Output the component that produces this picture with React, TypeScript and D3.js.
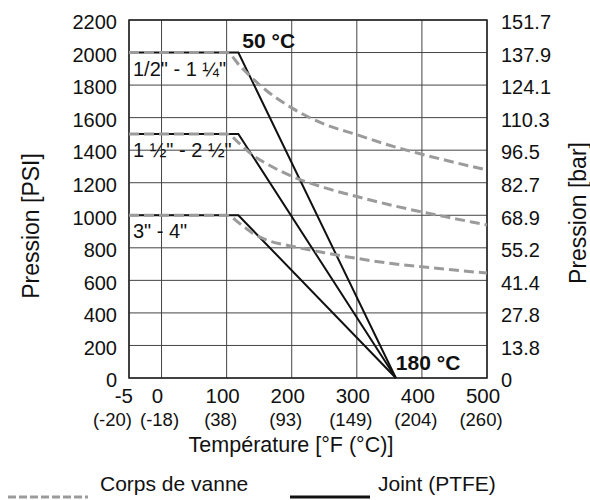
import React from 'react';
import * as d3 from 'd3';

// x positions on the °F axis (first tick is the -5 / -20 °C stop, drawn at half a step)
const xTickPos = [-50, 0, 100, 200, 300, 400, 500];
const fLabels = ['-5', '0', '100', '200', '300', '400', '500'];
const cLabels = ['(-20)', '(-18)', '(38)', '(93)', '(149)', '(204)', '(260)'];

const psiTicks = [0, 200, 400, 600, 800, 1000, 1200, 1400, 1600, 1800, 2000, 2200];
const barLabels = ['0', '13.8', '27.8', '41.4', '55.2', '68.9', '82.7', '96.5', '110.3', '124.1', '137.9', '151.7'];

const sizes = ['1/2" - 1 ¼"', '1 ½" - 2 ½"', '3" - 4"'];
const jointRated = [2000, 1500, 1000];
const jointKnee = 118;
const jointZero = 360;

const bodyTemps = [-50, 100, 120, 140, 160, 200, 250, 300, 350, 400, 450, 500];
const body1 = [2000, 2000, 1920, 1840, 1770, 1660, 1560, 1495, 1430, 1375, 1325, 1278];
const body2 = [1500, 1500, 1440, 1370, 1320, 1240, 1170, 1115, 1065, 1020, 980, 940];
const body3 = [1000, 1000, 950, 890, 850, 810, 770, 735, 705, 683, 663, 645];

const W = 590;
const H = 500;
const font = "'Liberation Sans', Arial, sans-serif";
const grey = '#9b9b9b';
const ink = '#111';

export default function App() {
  const x = d3.scaleLinear().domain([-50, 500]).range([129, 487]);
  const y = d3.scaleLinear().domain([0, 2200]).range([378, 20]);

  const line = d3.line<[number, number]>()
    .x(d => x(d[0]))
    .y(d => y(d[1]));
  const curve = d3.line<[number, number]>()
    .x(d => x(d[0]))
    .y(d => y(d[1]))
    .curve(d3.curveMonotoneX);

  const bodies = [body1, body2, body3].map(s => bodyTemps.map((t, i) => [t, s[i]] as [number, number]));
  const joints = jointRated.map(p => [[-50, p], [jointKnee, p], [jointZero, 0]] as [number, number][]);

  return (
    <svg width={W} height={H} style={{ position: 'absolute', left: 0, top: 0 }} fontFamily={font}>
      <rect width={W} height={H} fill="#fff" />

      {/* grid */}
      {xTickPos.map(t => (
        <line key={'vx' + t} x1={x(t)} x2={x(t)} y1={y(0)} y2={y(2200)} stroke="#444" strokeWidth={1} />
      ))}
      {psiTicks.map(t => (
        <line key={'hy' + t} x1={x(-50)} x2={x(500)} y1={y(t)} y2={y(t)} stroke="#444" strokeWidth={1} />
      ))}
      <rect x={x(-50)} y={y(2200)} width={x(500) - x(-50)} height={y(0) - y(2200)}
        fill="none" stroke="#222" strokeWidth={1.5} />

      {/* joint (PTFE) */}
      {joints.map((j, i) => (
        <path key={'j' + i} d={line(j) || ''} fill="none" stroke={ink} strokeWidth={2} />
      ))}

      {/* corps de vanne */}
      {bodies.map((b, i) => (
        <path key={'b' + i} d={curve(b) || ''} fill="none" stroke={grey} strokeWidth={3}
          strokeDasharray="10,5" />
      ))}

      {/* size labels */}
      {sizes.map((s, i) => (
        <text key={s} x={x(-50) + 4} y={y(jointRated[i]) + 23} fontSize={20} fill={ink}>{s}</text>
      ))}
      <text x={x(jointKnee) + 4} y={48} fontSize={21} fontWeight="bold" fill={ink}>50 °C</text>
      <text x={x(jointZero)} y={370} fontSize={21} fontWeight="bold" fill={ink}>180 °C</text>

      {/* left axis */}
      {psiTicks.map(t => (
        <text key={'l' + t} x={117} y={y(t) + 4} fontSize={20} textAnchor="end"
          dominantBaseline="middle" fill={ink}>{t}</text>
      ))}
      {/* right axis */}
      {psiTicks.map((t, i) => (
        <text key={'r' + t} x={501} y={y(t) + 4} fontSize={20}
          dominantBaseline="middle" fill={ink}>{barLabels[i]}</text>
      ))}
      {/* bottom axis: the first stop sits at the frame edge, so it is end-aligned */}
      {xTickPos.map((t, i) => (
        <g key={'x' + t}>
          <text x={i === 0 ? x(t) + 4 : x(t) - 4} y={403} fontSize={20.5}
            textAnchor={i === 0 ? 'end' : 'middle'} fill={ink}>{fLabels[i]}</text>
          <text x={i === 0 ? x(t) + 3 : x(t) - (i === 1 ? 2 : 6)} y={426} fontSize={18.5}
            textAnchor={i === 0 ? 'end' : 'middle'} fill={ink}>{cLabels[i]}</text>
        </g>
      ))}

      <text x={291} y={452} fontSize={21.5} textAnchor="middle" fill={ink}>Température [°F (°C)]</text>
      <text transform="translate(39,226) rotate(-90)" fontSize={23} textAnchor="middle" fill={ink}>Pression [PSI]</text>
      <text transform="translate(586,213) rotate(-90)" fontSize={23} textAnchor="middle" fill={ink}>Pression [bar]</text>

      {/* legend */}
      <line x1={8} x2={88} y1={497} y2={497} stroke={grey} strokeWidth={3} strokeDasharray="8,3" />
      <text x={100} y={491} fontSize={21} fill={ink}>Corps de vanne</text>
      <line x1={290} x2={370} y1={497} y2={497} stroke={ink} strokeWidth={3} />
      <text x={378} y={491} fontSize={21} fill={ink}>Joint (PTFE)</text>
    </svg>
  );
}
